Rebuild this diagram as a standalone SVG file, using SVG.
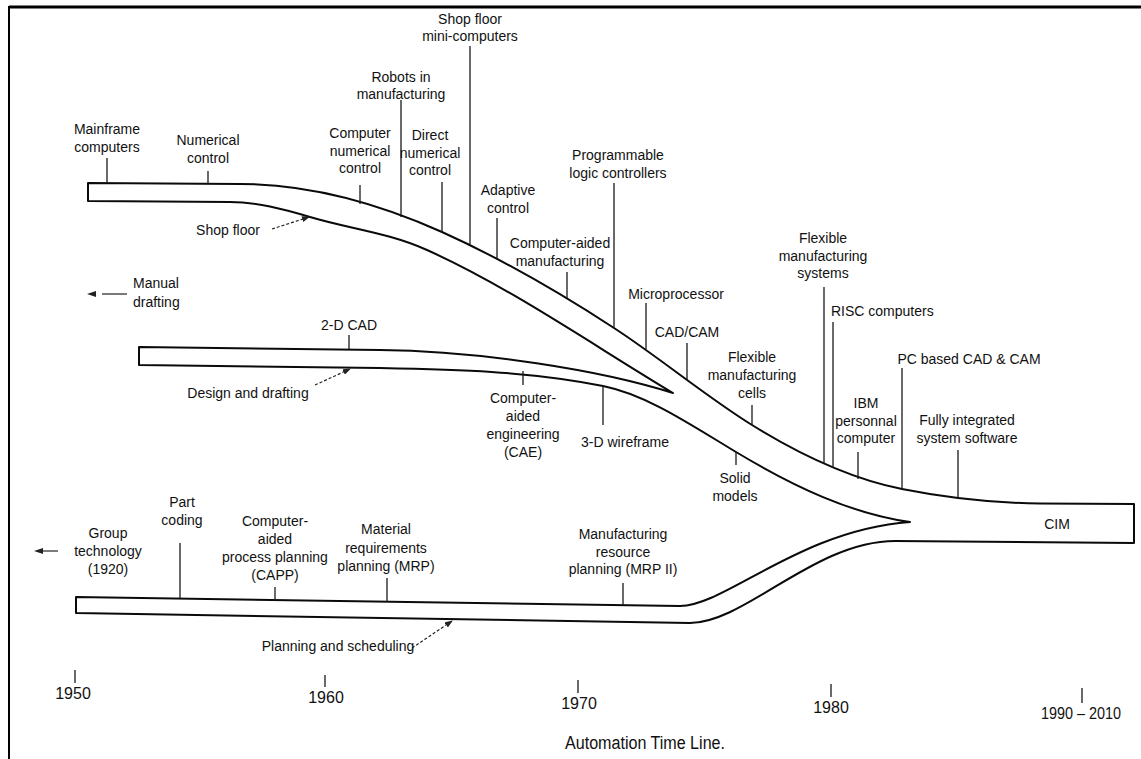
<svg xmlns="http://www.w3.org/2000/svg" width="1141" height="759" viewBox="0 0 1141 759">
<defs>
<style>
.t{font-family:"Liberation Sans",Arial,sans-serif;font-size:14px;fill:#111;text-anchor:middle}
.tl{text-anchor:start}
.yr{font-size:16px}
.edge{fill:none;stroke:#0a0a0a;stroke-width:2;stroke-linejoin:round}
.tick{stroke:#1a1a1a;stroke-width:1.3;fill:none}
.dash{stroke:#222;stroke-width:1.2;stroke-dasharray:3 2;fill:none;marker-end:url(#ah)}
.solid{stroke:#222;stroke-width:1.2;fill:none}
</style>
<marker id="ah" markerWidth="8" markerHeight="6" refX="7" refY="3" orient="auto" markerUnits="userSpaceOnUse">
<path d="M0,0 L8,3 L0,6 Z" fill="#222"/>
</marker>
</defs>
<rect width="1141" height="759" fill="#fff"/>
<g id="frame">
<line x1="9" y1="7" x2="1141" y2="7" stroke="#000" stroke-width="3"/>
<line x1="9" y1="6" x2="9" y2="759" stroke="#000" stroke-width="2"/>
</g>
<g id="bands">
<path class="edge" d="M88,183 L240,184 C307,184 375,202 442,232 C499.3,257.8 556.7,290.7 614,328 C660,357.9 706,396.5 752,425 C802,456 852,479 902,489 C948,498.2 994,503 1040,503.5 L1134,504 L1134,543 L895,541 C815,541 745,623 690,623 L76,613 L76,597 L680,606 C725,606 800,530 910,522 C852,514 794,486.8 736,452 C691.7,425.4 647.3,394.9 603,386 C528.7,371.1 454.3,369.5 380,368 L139,365 L139,347 L380,350 C480,351 600,370 673,393 C591,343.8 509,286.9 427,250 C388,232.5 349,228.7 310,217 C283.3,209 256.7,202 230,202 L88,201 Z"/>
</g>
<g id="connectors">
<line class="tick" x1="107" y1="158" x2="107" y2="183"/>
<line class="tick" x1="208" y1="171" x2="208" y2="184"/>
<line class="tick" x1="360" y1="185" x2="360" y2="204"/>
<line class="tick" x1="401" y1="100" x2="401" y2="217"/>
<line class="tick" x1="470" y1="46" x2="470" y2="244"/>
<line class="tick" x1="442" y1="182" x2="442" y2="232"/>
<line class="tick" x1="497" y1="218" x2="497" y2="258"/>
<line class="tick" x1="567" y1="272" x2="567" y2="298"/>
<line class="tick" x1="614" y1="183" x2="614" y2="328"/>
<line class="tick" x1="646" y1="303" x2="646" y2="349"/>
<line class="tick" x1="687" y1="343" x2="687" y2="380"/>
<line class="tick" x1="752" y1="405" x2="752" y2="425"/>
<line class="tick" x1="824" y1="287" x2="824" y2="464"/>
<line class="tick" x1="833" y1="322" x2="833" y2="468"/>
<line class="tick" x1="902" y1="368" x2="902" y2="489"/>
<line class="tick" x1="858" y1="452" x2="858" y2="479"/>
<line class="tick" x1="958" y1="450" x2="958" y2="497"/>
<line class="tick" x1="736" y1="452" x2="736" y2="465"/>
<line class="tick" x1="603" y1="386" x2="603" y2="425"/>
<line class="tick" x1="523" y1="371" x2="523" y2="385"/>
<line class="tick" x1="349" y1="335" x2="349" y2="349"/>
<line class="tick" x1="180" y1="543" x2="180" y2="598"/>
<line class="tick" x1="275" y1="587" x2="275" y2="600"/>
<line class="tick" x1="387" y1="578" x2="387" y2="602"/>
<line class="tick" x1="623" y1="583" x2="623" y2="605"/>
<path class="dash" d="M272,229 L309,217"/>
<path class="dash" d="M315,385 L350,369"/>
<path class="dash" d="M412,648 L452,621"/>
<line class="solid" x1="102" y1="294" x2="127" y2="294"/>
<path d="M87,294 L96,291 L96,297 Z" fill="#222"/>
<line class="solid" x1="40" y1="551" x2="58" y2="551"/>
<path d="M34,551 L43,548 L43,554 Z" fill="#222"/>
<line class="tick" x1="75" y1="670" x2="75" y2="683"/>
<line class="tick" x1="325" y1="675" x2="325" y2="687"/>
<line class="tick" x1="578" y1="680" x2="578" y2="693"/>
<line class="tick" x1="831" y1="684" x2="831" y2="697"/>
<line class="tick" x1="1082" y1="688" x2="1082" y2="703"/>
</g>
<g id="n-mainframe"><text class="t" x="107" y="134">Mainframe<tspan x="107" dy="18">computers</tspan></text></g>
<g id="n-nc"><text class="t" x="208" y="145">Numerical<tspan x="208" dy="18">control</tspan></text></g>
<g id="n-cnc"><text class="t" x="360" y="138">Computer<tspan x="360" dy="17.5">numerical</tspan><tspan x="360" dy="17.5">control</tspan></text></g>
<g id="n-robots"><text class="t" x="401" y="82">Robots in<tspan x="401" dy="17">manufacturing</tspan></text></g>
<g id="n-minicomp"><text class="t" x="470" y="24">Shop floor<tspan x="470" dy="16.5">mini-computers</tspan></text></g>
<g id="n-dnc"><text class="t" x="430" y="140">Direct<tspan x="430" dy="17.5">numerical</tspan><tspan x="430" dy="17.5">control</tspan></text></g>
<g id="n-adaptive"><text class="t" x="508" y="195">Adaptive<tspan x="508" dy="18">control</tspan></text></g>
<g id="n-cam"><text class="t" x="560" y="248">Computer-aided<tspan x="560" dy="18">manufacturing</tspan></text></g>
<g id="n-plc"><text class="t" x="618" y="160">Programmable<tspan x="618" dy="17.5">logic controllers</tspan></text></g>
<g id="n-micro"><text class="t" x="676" y="299">Microprocessor</text></g>
<g id="n-cadcam"><text class="t" x="687" y="337">CAD/CAM</text></g>
<g id="n-fmc"><text class="t" x="752" y="362">Flexible<tspan x="752" dy="18">manufacturing</tspan><tspan x="752" dy="18">cells</tspan></text></g>
<g id="n-fms"><text class="t" x="823" y="243">Flexible<tspan x="823" dy="17.5">manufacturing</tspan><tspan x="823" dy="17.5">systems</tspan></text></g>
<g id="n-risc"><text class="t tl" x="831" y="316">RISC computers</text></g>
<g id="n-pc"><text class="t" x="969" y="364">PC based CAD &amp; CAM</text></g>
<g id="n-ibm"><text class="t" x="866" y="408">IBM<tspan x="866" dy="17.5">personnal</tspan><tspan x="866" dy="17.5">computer</tspan></text></g>
<g id="n-fully"><text class="t" x="967" y="425">Fully integrated<tspan x="967" dy="18">system software</tspan></text></g>
<g id="n-cim"><text class="t" x="1057" y="529">CIM</text></g>
<g id="n-solid"><text class="t" x="735" y="483">Solid<tspan x="735" dy="18">models</tspan></text></g>
<g id="n-3d"><text class="t" x="625" y="447">3-D wireframe</text></g>
<g id="n-cae"><text class="t" x="523" y="403">Computer-<tspan x="523" dy="18">aided</tspan><tspan x="523" dy="18">engineering</tspan><tspan x="523" dy="18">(CAE)</tspan></text></g>
<g id="n-2dcad"><text class="t" x="349" y="330">2-D CAD</text></g>
<g id="n-design"><text class="t" x="248" y="398">Design and drafting</text></g>
<g id="n-manual"><text class="t tl" x="133" y="288">Manual<tspan x="133" dy="19">drafting</tspan></text></g>
<g id="n-shopfloor"><text class="t" x="228" y="235">Shop floor</text></g>
<g id="n-group"><text class="t" x="108" y="538">Group<tspan x="108" dy="18">technology</tspan><tspan x="108" dy="18">(1920)</tspan></text></g>
<g id="n-part"><text class="t" x="182" y="507">Part<tspan x="182" dy="18">coding</tspan></text></g>
<g id="n-capp"><text class="t" x="275" y="526">Computer-<tspan x="275" dy="18">aided</tspan><tspan x="275" dy="18">process planning</tspan><tspan x="275" dy="18">(CAPP)</tspan></text></g>
<g id="n-mrp"><text class="t" x="386" y="534">Material<tspan x="386" dy="18.5">requirements</tspan><tspan x="386" dy="18.5">planning (MRP)</tspan></text></g>
<g id="n-mrp2"><text class="t" x="623" y="539">Manufacturing<tspan x="623" dy="17.5">resource</tspan><tspan x="623" dy="17.5">planning (MRP II)</tspan></text></g>
<g id="n-planning"><text class="t" x="338" y="651">Planning and scheduling</text></g>
<g id="axis">
<text class="t yr" x="73" y="699">1950</text>
<text class="t yr" x="326" y="703">1960</text>
<text class="t yr" x="579" y="709">1970</text>
<text class="t yr" x="831" y="713">1980</text>
<text class="t yr" x="1081" y="719" textLength="80" lengthAdjust="spacingAndGlyphs">1990 – 2010</text>
<text class="t" x="645" y="749" style="font-size:18px" textLength="160" lengthAdjust="spacingAndGlyphs">Automation Time Line.</text>
</g>
</svg>
